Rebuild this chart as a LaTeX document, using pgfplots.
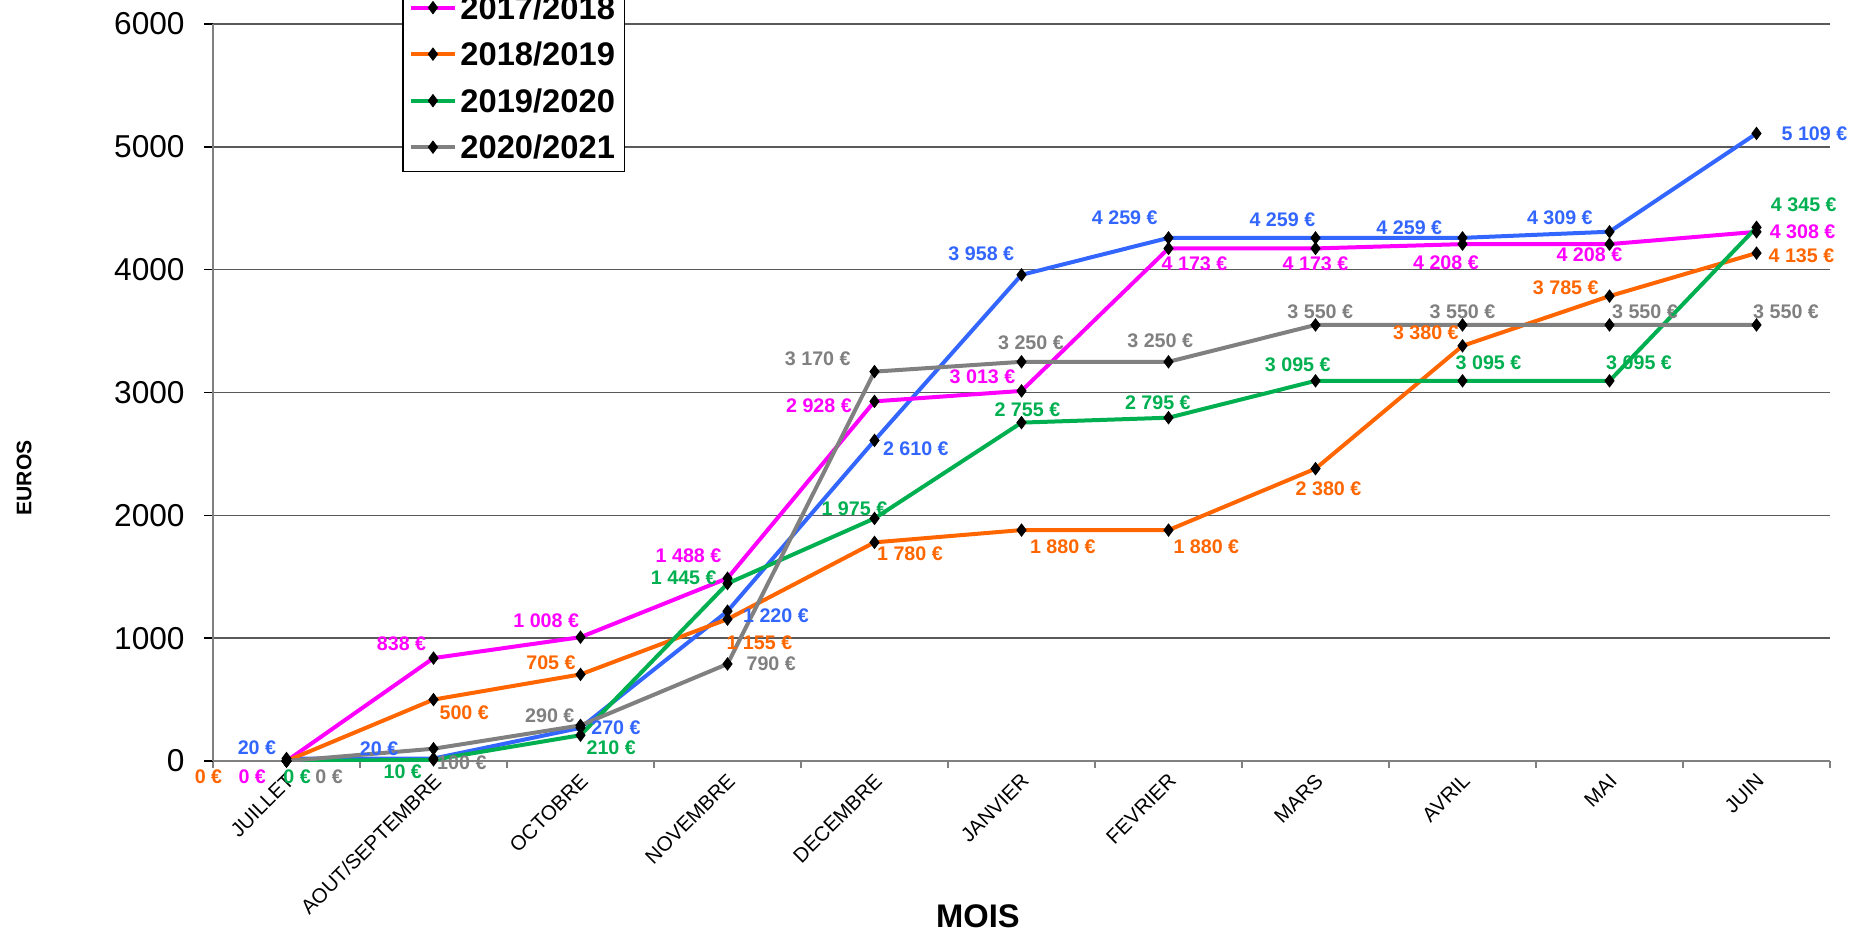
\documentclass[border=0pt]{standalone}
\usepackage{fontspec}
\setmainfont{Liberation Sans}
\usepackage{pgfplots}
\pgfplotsset{compat=1.18}

\definecolor{cBlue}{HTML}{3366FF}
\definecolor{cMag}{HTML}{FF00FF}
\definecolor{cOra}{HTML}{FF6600}
\definecolor{cGre}{HTML}{00B050}
\definecolor{cGra}{HTML}{808080}

\pgfplotsset{
    lbl/.style={
        forget plot,
        point meta=explicit,
        nodes near coords={\pgfmathprintnumber[fixed,precision=0,1000 sep={\ }]{\pgfplotspointmeta}~€},
        visualization depends on={\thisrow{dx} \as \dx},
        visualization depends on={\thisrow{dy} \as \dy},
        every node near coord/.append style={anchor=center, inner sep=0pt, text=#1,
            font=\fontsize{5.6}{6}\bfseries, xshift=\dx*0.1182mm, yshift=\dy*0.1182mm},
    },
    ser/.style={#1, line width=0.4mm, mark=diamond*, mark size=0.6mm,
        mark options={fill=black, draw=black, solid, line width=0.1mm}},
}

\begin{document}
\begin{tikzpicture}
\begin{axis}[
    at={(21.3mm,17.6mm)}, anchor=south west,
    width=161.7mm, height=73.7mm, scale only axis,
    xmin=-0.5, xmax=10.5,
    ymin=0, ymax=6000,
    axis x line*=bottom, axis y line*=left,
    axis line style={draw=cGra, line width=0.2mm},
    xtick={0,...,10},
    xticklabels={JUILLET,AOUT/SEPTEMBRE,OCTOBRE,NOVEMBRE,DECEMBRE,JANVIER,FEVRIER,MARS,AVRIL,MAI,JUIN},
    minor xtick={-0.5,0.5,...,10.5},
    major x tick style={draw=none},
    minor x tick style={draw=cGra, line width=0.2mm},
    minor tick length=0.7mm,
    ytick={0,1000,...,6000},
    y tick style={draw=black, line width=0.15mm},
    major tick length=0.9mm,
    tick align=outside,
    ymajorgrids=true,
    grid style={draw=black!65, line width=0.15mm},
    /pgf/number format/assume math mode=true,
    /pgf/number format/1000 sep={},
    yticklabel style={font=\fontsize{9}{10}\selectfont, xshift=-0.7mm},
    xticklabel style={font=\fontsize{5.8}{7}\selectfont, rotate=45, anchor=east, inner sep=0.6mm,
        xshift=0.4mm, yshift=-0.8mm},
    legend style={at={(0.117,0.799)}, anchor=south west, draw=black, line width=0.15mm,
        font=\fontsize{9.3}{10}\bfseries, inner xsep=0.6mm, inner ysep=0.1mm,
        nodes={inner xsep=0.35mm, inner ysep=0.85mm, text height=2.65mm, text depth=0.3mm}},
    legend cell align=left,
    legend image code/.code={\draw[mark repeat=2,mark phase=2] plot coordinates {(0mm,0mm)(2.2mm,0mm)(4.4mm,0mm)};},
]
% columns: month index, euros, label offset dx/dy (reference px, dy up)
\addplot[ser=cBlue, lbl=cBlue] table[x=x, y=y, meta=y] {
x y dx dy
0 20 -25 9
1 20 -46 8
2 270 30 0
3 1220 41 -4
4 2610 35 -7
5 3958 -34 18
6 4259 -37 17
7 4259 -28 15
8 4259 -45 9
9 4309 -42 12
10 5109 49 0
};
\addplot[ser=cMag, lbl=cMag] table[x=x, y=y, meta=y] {
x y dx dy
0 0 -29 -13
1 838 -27 12
2 1008 -29 14
3 1488 -33 19
4 2928 -47 -4
5 3013 -33 12
6 4173 22 -13
7 4173 0 -13
8 4208 -14 -16
9 4208 -17 -9
10 4308 39 0
};
\addplot[ser=cOra, lbl=cOra] table[x=x, y=y, meta=y] {
x y dx dy
0 0 -66 -13
1 500 26 -11
2 705 -25 10
3 1155 27 -20
4 1780 30 -10
5 1880 35 -14
6 1880 32 -14
7 2380 11 -17
8 3380 -31 11
9 3785 -37 7
10 4135 38 -2
};
\addplot[ser=cGre, lbl=cGre] table[x=x, y=y, meta=y] {
x y dx dy
0 0 9 -13
1 10 -26 -10
2 210 26 -11
3 1445 -37 5
4 1975 -17 8
5 2755 5 11
6 2795 -9 13
7 3095 -15 14
8 3095 22 15
9 3095 25 15
10 4345 40 19
};
\addplot[ser=cGra, lbl=cGra] table[x=x, y=y, meta=y] {
x y dx dy
0 0 36 -13
1 100 24 -12
2 290 -26 8
3 790 37 0
4 3170 -48 11
5 3250 8 16
6 3250 -7 18
7 3550 4 11
8 3550 0 11
9 3550 30 11
10 3550 25 11
};
\addlegendimage{ser=cBlue}\addlegendentry{2016/2017}
\addlegendimage{ser=cMag}\addlegendentry{2017/2018}
\addlegendimage{ser=cOra}\addlegendentry{2018/2019}
\addlegendimage{ser=cGre}\addlegendentry{2019/2020}
\addlegendimage{ser=cGra}\addlegendentry{2020/2021}
\end{axis}
\node[font=\fontsize{9.3}{10}\bfseries] at (97.8mm,2.1mm) {MOIS};
\node[font=\fontsize{6}{7}\bfseries, rotate=90] at (2.4mm,45.9mm) {EUROS};
\pgfresetboundingbox
\path[use as bounding box] (0,0) rectangle (185.4mm,93.7mm);
\end{tikzpicture}
\end{document}
